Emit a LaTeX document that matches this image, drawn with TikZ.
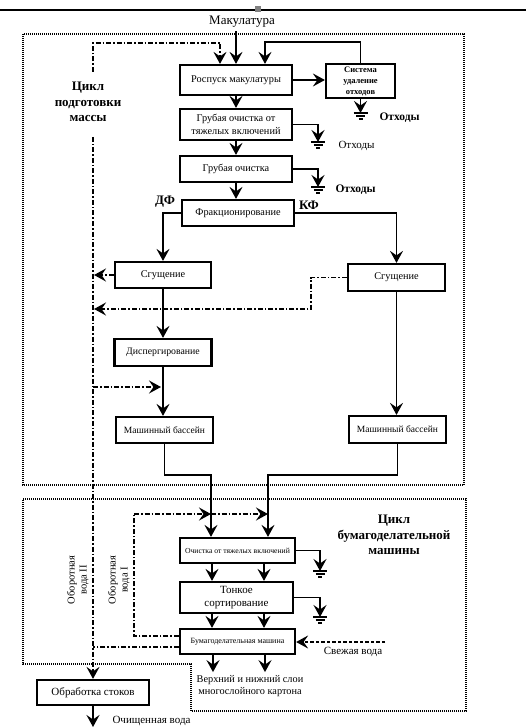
\documentclass[tikz,border=0pt]{standalone}
\usepackage{fontspec}
\setmainfont{Liberation Serif}
\usetikzlibrary{arrows.meta}

\tikzset{
  blk/.style={draw,line width=2.2pt,inner sep=1pt,align=center,font=\fontsize{10.3}{12.5}\selectfont},
  arr/.style={line width=1.6pt,->},
  rec/.style={line width=1.8pt,dash pattern=on 5pt off 2pt on 1.5pt off 2pt},
  dsh/.style={line width=1.8pt,dash pattern=on 3.5pt off 2pt},
  dotbox/.style={line width=1.2pt,dash pattern=on 1pt off 1pt},
  lbl/.style={align=center,font=\fontsize{13}{15.5}\selectfont\bfseries},
  gnd/.pic={\draw[line width=1.1pt] (-7,0)--(7,0) (-4.5,3)--(4.5,3) (-2,6)--(2,6);}
}

\begin{document}
\begin{tikzpicture}[x=1pt,y=-1pt,>={Stealth[length=12pt,width=13pt,inset=4.5pt]}]
\useasboundingbox (0,0) rectangle (526,727);
% линия страницы
\draw[line width=1.3pt] (0,10) -- (526,10);
\fill[gray] (255,6) rectangle (261,12);

% рамки циклов
\draw[dotbox] (23,34) rectangle (464,485);
\draw[dotbox] (23,499) -- (466,499) -- (466,711) -- (191,711) -- (191,664) -- (23,664) -- cycle;
\node[lbl] (c1lbl) at (88,102) {Цикл\\подготовки\\массы};
\node[lbl] (c2lbl) at (394,535) {Цикл\\бумагоделательной\\машины};

% блоки
\node[font=\fontsize{13}{15}\selectfont] (mak) at (242,22) {Макулатура};
\node[blk,minimum width=112pt,minimum height=30pt] (ros) at (236,80) {Роспуск макулатуры};
\node[blk,minimum width=69pt,minimum height=34pt,font=\fontsize{8.5}{11}\selectfont\bfseries] (sys) at (360.5,81) {Система\\удаление\\отходов};
\node[blk,minimum width=112pt,minimum height=31pt] (gr1) at (236,124.5) {Грубая очистка от\\тяжелых включений};
\node[blk,minimum width=112pt,minimum height=26pt] (gr2) at (236,169) {Грубая очистка};
\node[blk,minimum width=112pt,minimum height=26pt] (fr) at (238,213) {Фракционирование};
\node[blk,minimum width=96pt,minimum height=26pt] (sgL) at (163,275) {Сгущение};
\node[blk,minimum width=97pt,minimum height=27pt] (sgR) at (396.5,277.5) {Сгущение};
\node[blk,minimum width=97pt,minimum height=27pt,font=\fontsize{9.8}{12}\selectfont] (disp) at (163,352.5) {Диспергирование};
\node[blk,minimum width=97pt,minimum height=26pt,font=\fontsize{9.5}{11}\selectfont] (mbL) at (164.5,430) {Машинный бассейн};
\node[blk,minimum width=97pt,minimum height=27pt,font=\fontsize{9.5}{11}\selectfont] (mbR) at (397.5,429.5) {Машинный бассейн};
\node[blk,minimum width=115pt,minimum height=25pt,font=\fontsize{7.7}{9}\selectfont] (och) at (237.5,550.5) {Очистка от тяжелых включений};
\node[blk,minimum width=113pt,minimum height=31pt,font=\fontsize{11}{13}\selectfont] (ton) at (236.5,597.5) {Тонкое\\сортирование};
\node[blk,minimum width=115pt,minimum height=25pt,font=\fontsize{8}{9}\selectfont] (bm) at (237.5,641.5) {Бумагоделательная машина};
\node[blk,minimum width=112pt,minimum height=25pt,font=\fontsize{11}{13}\selectfont] (obr) at (93,692.5) {Обработка стоков};

% подписи
\node[font=\fontsize{13}{15}\selectfont\bfseries] (df) at (165,202) {ДФ};
\node[font=\fontsize{13}{15}\selectfont\bfseries] (kf) at (309,205) {КФ};
\node[rotate=90,align=center,font=\fontsize{10.5}{12}\selectfont] (ov2) at (78,580) {Оборотная\\вода II};
\node[rotate=90,align=center,font=\fontsize{10.5}{12}\selectfont] (ov1) at (119,580) {Оборотная\\вода I};
\node[align=center,font=\fontsize{10.3}{11.5}\selectfont] (sloi) at (250,686) {Верхний и нижний слои\\многослойного картона};
\node[font=\fontsize{11}{13}\selectfont] (sv) at (353,652) {Свежая вода};
\node[anchor=west,font=\fontsize{11}{13}\selectfont] (cv) at (109,721) {Очищенная вода};

% отходы
\coordinate (g0) at (360.5,113);
\coordinate (g1) at (318,142);
\coordinate (g2) at (318,187);
\coordinate (g3) at (320,571);
\coordinate (g4) at (320,617);
\foreach \g in {g0,g1,g2,g3,g4} \pic at (\g) {gnd};
\node[anchor=west,font=\fontsize{11.5}{13}\selectfont\bfseries] (ot0) at (376,118) {Отходы};
\node[anchor=west,font=\fontsize{11}{13}\selectfont] (ot1) at (335,146) {Отходы};
\node[anchor=west,font=\fontsize{11.5}{13}\selectfont\bfseries] (ot2) at (332,190) {Отходы};
\draw[arr] (sys.south) -- (g0);
\draw[arr] (gr1.east) -| (g1);
\draw[arr] (gr2.east) -| (g2);
\draw[arr] (och.east) -| (g3);
\draw[arr] (ton.east) -| (g4);

% основной поток
\draw[arr] (mak.south -| ros.north) -- (ros.north);
\draw[arr] (ros.east) -- (ros.east -| sys.west);
\draw[arr] (sys.north) -- ++(0,-21) -| ([xshift=29pt]ros.north);
\draw[arr] (ros.south) -- (gr1.north);
\draw[arr] (gr1.south) -- (gr2.north);
\draw[arr] (gr2.south) -- (gr2.south |- fr.north);
\draw[arr] (fr.west) -| (sgL.north);
\draw[arr] (fr.east) -| (sgR.north);
\draw[arr] (sgL.south) -- (disp.north);
\draw[arr] (disp.south) -- (disp.south |- mbL.north);
\draw[arr] (sgR.south) -- (sgR.south |- mbR.north);
\coordinate (i1) at (211,475);
\coordinate (i2) at (268,475);
\draw[arr] (mbL.south) |- (i1) -- (i1 |- och.north);
\draw[arr] (mbR.south) |- (i2) -- (i2 |- och.north);
\coordinate (k1) at (212,0);
\coordinate (k2) at (264,0);
\foreach \k in {k1,k2} {
  \draw[arr] (\k |- och.south) -- (\k |- ton.north);
  \draw[arr] (\k |- ton.south) -- (\k |- bm.north);
  \draw[arr] ([xshift=1pt]\k |- bm.south) -- ([xshift=1pt]\k |- sloi.north);
}
\draw[arr] (obr.south) -- (obr.south |- 0,727);

% оборотная вода
\coordinate (r2t) at (93,72);
\coordinate (r2b) at (93,137);
\draw[rec,->] (r2t) -- (93,43) -| ([xshift=-16pt]ros.north);
\draw[rec,->] (r2b) -- (obr.north);
\draw[rec,->] (sgL.west) -- ([xshift=1pt]sgL.west -| r2b);
\coordinate (m2) at (94,309);
\draw[rec,->] (sgR.west) -- ++(-36,0) |- (m2);
\coordinate (m3) at (93,387);
\draw[rec,->] (m3) -- ([xshift=-2pt]m3 -| disp.south);
\coordinate (w1) at (134,514);
\draw[rec] ([yshift=5.5pt]bm.west) -| (w1);
\draw[rec,->] (w1) -- (w1 -| i1);
\draw[rec,->] (w1 -| i1) -- (w1 -| i2);
\draw[rec] ([yshift=-5.5pt]bm.west) -- ([yshift=-5.5pt]bm.west -| r2b);
\coordinate (fw) at (385,642);
\draw[dsh,->] (fw) -- (fw -| bm.east);
\end{tikzpicture}
\end{document}
